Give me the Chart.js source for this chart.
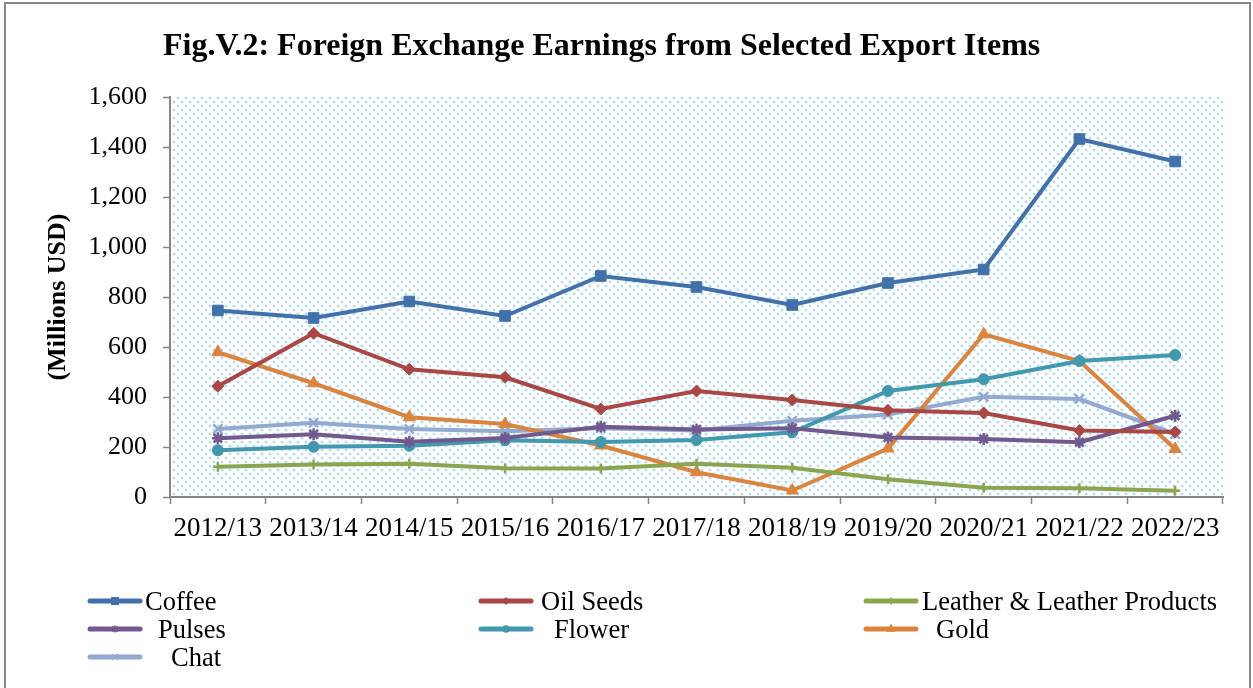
<!DOCTYPE html>
<html>
<head>
<meta charset="utf-8">
<title>Fig.V.2</title>
<script src="https://cdn.jsdelivr.net/npm/chart.js@4.4.0/dist/chart.umd.min.js"></script>
<style>
  body { margin: 0; background: #fff; }
  #wrap { position: relative; width: 1253px; height: 688px; overflow: hidden; font-family: "Liberation Serif", "Times New Roman", serif; color: #000; }
  #frame { position: absolute; left: 4px; top: 2px; width: 1247px; height: 730px; border: 2px solid #878787; box-sizing: border-box; }
  #chart { position: absolute; left: 0; top: 0; }
  #title { position: absolute; left: 163px; top: 28px; font-size: 32px; line-height: 32px; font-weight: bold; white-space: nowrap; }
  .leg { position: absolute; height: 30px; line-height: 30px; font-size: 26.5px; white-space: nowrap; }
  .leg canvas { position: absolute; left: 0; top: 8px; }
  .leg span { position: absolute; top: 0; }
</style>
</head>
<body>
<div id="wrap">
  <div id="frame"></div>
  <canvas id="chart" width="1253" height="688"></canvas>
  <div id="title">Fig.V.2: Foreign Exchange Earnings from Selected Export Items</div>
  <div id="legend"></div>
</div>
<script>
// fiscal years
const years = ['2012/13', '2013/14', '2014/15', '2015/16', '2016/17', '2017/18',
  '2018/19', '2019/20', '2020/21', '2021/22', '2022/23'];

// earnings, millions USD
const coffee   = [746, 716, 782, 724, 884, 840, 768, 856, 910, 1432, 1342];
const oilSeeds = [443, 655, 511, 479, 352, 424, 388, 347, 336, 266, 260];
const leather  = [121, 130, 133, 115, 114, 133, 117, 71, 37, 35, 25];
const pulses   = [235, 251, 221, 236, 281, 270, 275, 238, 232, 219, 325];
const flower   = [187, 201, 205, 227, 220, 228, 259, 424, 471, 544, 568];
const gold     = [579, 455, 319, 292, 206, 99, 26, 194, 651, 544, 192];
const chat     = [272, 297, 272, 263, 275, 266, 305, 330, 401, 392, 252];

const yTicks = [0, 200, 400, 600, 800, 1000, 1200, 1400, 1600];

const FONT = 'Liberation Serif';
const AXIS = '#868686';

/*---------------------------------------*/
// series look + legend slot (col, row)
const series = [
  { label: 'Coffee', data: coffee, color: '#4170AA', style: 'rect', r: 7.5, col: 0, row: 0 },
  { label: 'Oil Seeds', data: oilSeeds, color: '#AA4643', style: 'rectRot', r: 6, col: 1, row: 0 },
  { label: 'Leather & Leather Products', data: leather, color: '#89A54E', style: 'cross', r: 5, col: 2, row: 0 },
  { label: 'Pulses', data: pulses, color: '#71588F', style: 'star', r: 6, col: 0, row: 1 },
  { label: 'Flower', data: flower, color: '#4198AF', style: 'circle', r: 5.5, col: 1, row: 1 },
  { label: 'Gold', data: gold, color: '#DB843D', style: 'triangle', r: 7, col: 2, row: 1 },
  { label: 'Chat', data: chat, color: '#93A9CF', style: 'crossRot', r: 6.5, col: 0, row: 2 },
];

const datasets = series.map(s => ({
  label: s.label,
  data: s.data,
  borderColor: s.color,
  backgroundColor: s.color,
  borderWidth: 4,
  tension: 0,
  pointStyle: s.style,
  pointRadius: s.r,
  pointBorderWidth: (s.style === 'cross' || s.style === 'crossRot' || s.style === 'star') ? 2.5 : 1,
  pointBorderColor: s.color,
  pointBackgroundColor: s.color,
}));

// dotted fill of the plot area
function makeDots() {
  const c = document.createElement('canvas');
  c.width = 8; c.height = 8;
  const g = c.getContext('2d');
  g.fillStyle = '#ffffff';
  g.fillRect(0, 0, 8, 8);
  [[1, 1], [5, 5]].forEach(p => {
    g.fillStyle = 'rgba(170,220,238,0.25)';
    g.fillRect(p[0] - 1, p[1], 4, 2);
    g.fillRect(p[0], p[1] - 1, 2, 4);
    g.fillStyle = 'rgba(140,205,230,0.55)';
    g.fillRect(p[0], p[1], 2, 2);
  });
  return g.createPattern(c, 'repeat');
}

const plotBg = {
  id: 'plotBg',
  beforeDraw(chart) {
    const a = chart.chartArea;
    const ctx = chart.ctx;
    ctx.save();
    ctx.fillStyle = makeDots();
    ctx.fillRect(a.left, a.top, a.right - a.left, a.bottom - a.top);
    ctx.restore();
  }
};

const myChart = new Chart(document.getElementById('chart'), {
  type: 'line',
  data: { labels: years, datasets: datasets },
  plugins: [plotBg],
  options: {
    responsive: false,
    animation: false,
    layout: { padding: { top: 97, right: 30, bottom: 131, left: 0 } },
    plugins: {
      legend: { display: false },
      title: { display: false },
      tooltip: { enabled: false }
    },
    scales: {
      x: {
        offset: true,
        grid: { offset: true, drawOnChartArea: false, color: AXIS, tickLength: 7, tickWidth: 1.5 },
        border: { color: AXIS, width: 2 },
        ticks: { color: '#000', font: { family: FONT, size: 27 }, padding: 9, maxRotation: 0, autoSkip: false },
        afterFit: function(scale) { scale.height = 60; }
      },
      y: {
        min: 0,
        max: 1600,
        afterBuildTicks: function(scale) { scale.ticks = yTicks.map(v => ({ value: v })); },
        grid: { drawOnChartArea: false, color: AXIS, tickLength: 7, tickWidth: 1.5 },
        border: { color: AXIS, width: 2 },
        ticks: {
          color: '#000',
          font: { family: FONT, size: 26 },
          padding: 16,
          callback: v => v.toLocaleString('en-US')
        },
        title: {
          display: true,
          text: '(Millions USD)',
          color: '#000',
          font: { family: FONT, size: 26, weight: 'bold' },
          padding: { top: 43, bottom: 0 }
        },
        afterFit: function(scale) { scale.width = 170; }
      }
    }
  }
});

/*---------------------------------------*/
// legend in three fixed columns, like the original
const colX = [87, 478, 863];
const textX = [145, 541, 922];
const rowY = [601, 629, 657];
const textShift = { 'Pulses': 13, 'Chat': 26, 'Flower': 13, 'Gold': 14 };
const legend = document.getElementById('legend');
series.forEach(s => {
  const item = document.createElement('div');
  item.className = 'leg';
  item.style.left = colX[s.col] + 'px';
  item.style.top = (rowY[s.row] - 15) + 'px';
  const cv = document.createElement('canvas');
  cv.width = 56; cv.height = 14;
  const g = cv.getContext('2d');
  g.strokeStyle = s.color;
  g.fillStyle = s.color;
  g.lineWidth = 5;
  g.lineCap = 'round';
  g.beginPath();
  g.moveTo(3, 7); g.lineTo(53, 7);
  g.stroke();
  if (Chart.helpers && Chart.helpers.drawPoint) {
    g.lineWidth = 1.5;
    Chart.helpers.drawPoint(g, { pointStyle: s.style, radius: Math.max(3, s.r - 3), borderWidth: 1.5, rotation: 0 }, 28, 7);
  }
  item.appendChild(cv);
  const t = document.createElement('span');
  t.textContent = s.label;
  t.style.left = (textX[s.col] - colX[s.col] + (textShift[s.label] || 0)) + 'px';
  item.appendChild(t);
  legend.appendChild(item);
});
</script>
</body>
</html>
